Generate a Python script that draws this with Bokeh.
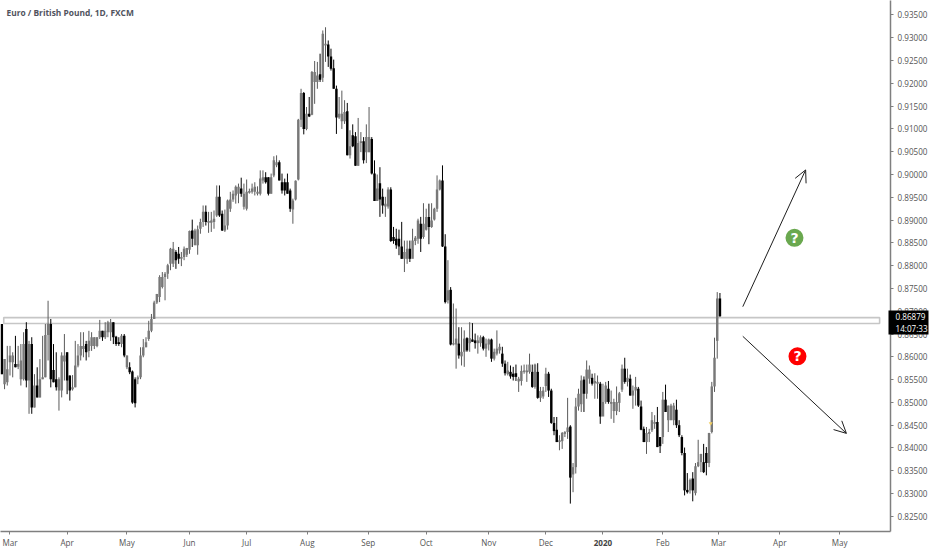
from bokeh.plotting import figure
from bokeh.models import (Range1d, FixedTicker, PrintfTickFormatter, Label, Arrow, OpenHead,
                          ColumnDataSource, LinearAxis)
from bokeh.core.properties import value
from bokeh.embed import file_html
from bokeh.resources import INLINE

# prices in 1/10000 units
highs = [
8672,8595,8624,8624,8610,8646,8624,8628,8654,8676,8635,8643,8562,8577,8595,8646,8672,8723,8683,8628,
8610,8555,8610,8650,8610,8559,8560,8635,8628,8654,8654,8635,8657,8654,8643,8643,8681,8657,8676,8679,
8683,8676,8646,8643,8650,8650,8603,8588,8570,8555,8559,8621,8639,8643,8679,8694,8723,8738,
8779,8786,8786,8804,8839,8852,8834,8841,8830,8842,8839,8877,8901,8881,8888,8903,8932,8932,8918,8918,
8921,8976,8976,8921,8923,8945,8962,8965,8976,8980,8993,8980,8989,8969,8980,8983,8974,9009,9009,9005,
8994,9002,9040,9042,9031,9002,8991,9002,8969,8947,8987,9122,
9188,9181,9148,9170,9227,9249,9247,9265,9316,9323,9294,9276,9252,9195,9170,9184,9163,9157,9097,9110,
9093,9124,9093,9082,9110,9148,9082,
9031,9000,9016,8969,8951,8972,8972,8885,8881,8879,8896,8855,8855,8855,8881,8865,8903,8907,8937,8925,
8936,8937,8927,8998,8989,9020,8869,8812,8753,8717,8706,8665,8665,8658,8643,8676,8674,8651,8647,8647,
8646,8640,8640,8640,8618,8658,8629,8622,8592,8589,8581,8578,
8583,8556,8581,8583,8583,8607,8583,8585,8586,8534,8534,8576,8567,8530,8468,8468,8428,8435,8437,8510,
8450,8367,8510,8530,8559,8557,8592,8581,8563,8564,8559,8545,8541,8545,8547,8526,8508,8535,8523,8583,
8598,8574,8561,8537,8556,8534,8504,8447,8446,8442,8479,8472,8490,8424,8523,8539,8493,8497,8499,8506,
8461,8428,8401,8345,8333,8347,8367,8418,8387,8409,8402,8433,8545,8642,8742,8740]
lows = [
8562,8529,8537,8559,8555,8577,8573,8537,8548,8533,8475,8475,8489,8511,8511,8551,8555,8592,8533,8544,
8526,8482,8511,8548,8518,8504,8526,8533,8577,8592,8599,8592,8599,8613,8617,8621,8639,8635,8639,8643,
8635,8628,8624,8624,8621,8599,8573,8562,8497,8489,8540,8551,8599,8621,8635,8654,8683,8716,
8720,8750,8724,8771,8790,8797,8793,8804,8799,8812,8819,8826,8841,8845,8824,8870,8885,8888,8872,8874,
8881,8907,8907,8876,8874,8879,8918,8940,8936,8937,8951,8923,8921,8958,8958,8954,8954,8954,8980,8980,
8954,8958,8994,9016,8987,8958,8954,8958,8918,8892,8943,8987,
9104,9088,9097,9126,9130,9155,9188,9203,9203,9247,9236,9228,9188,9089,9122,9100,9111,9042,9035,9060,
9019,9019,9049,9024,9025,9049,9000,
8942,8942,8907,8914,8907,8925,8852,8848,8837,8823,8815,8786,8804,8808,8819,8845,8848,8830,8859,8877,
8847,8883,8899,8918,8965,8841,8717,8717,8625,8625,8574,8596,8581,8578,8611,8611,8633,8618,8607,8622,
8614,8600,8614,8589,8592,8603,8607,8578,8559,8559,8552,8548,
8547,8523,8537,8563,8545,8563,8532,8530,8508,8501,8508,8523,8512,8453,8428,8413,8395,8398,8424,8420,
8278,8303,8344,8482,8479,8479,8508,8541,8537,8508,8508,8453,8472,8497,8497,8464,8455,8472,8479,8523,
8541,8535,8515,8486,8493,8490,8439,8413,8387,8413,8435,8442,8402,8389,8409,8479,8435,8461,8450,8444,
8424,8384,8296,8300,8300,8283,8296,8358,8347,8345,8340,8358,8432,8523,8596,8688]
opens = [
8672,8540,8544,8588,8588,8584,8578,8551,8551,8661,8548,8628,8489,8537,8511,8551,8555,8648,8672,8571,
8551,8526,8526,8590,8610,8559,8529,8533,8581,8603,8617,8628,8613,8624,8624,8624,8643,8657,8643,8654,
8654,8676,8644,8632,8628,8646,8577,8577,8568,8551,8551,8555,8603,8621,8639,8657,8683,8719,
8731,8753,8775,8782,8804,8804,8830,8826,8815,8819,8824,8835,8877,8845,8845,8881,8896,8918,8894,8894,
8896,8910,8951,8914,8877,8888,8925,8945,8954,8958,8969,8929,8925,8960,8962,8962,8958,8958,8987,8994,
8994,8958,8998,9020,9027,8983,8983,8983,8965,8923,8945,8989,
9120,9179,9100,9133,9131,9203,9203,9220,9212,9283,9285,9259,9233,9188,9125,9117,9117,9139,9042,9086,
9084,9019,9069,9073,9049,9049,9078,
9002,8942,8981,8951,8930,8930,8967,8863,8859,8859,8842,8815,8815,8837,8815,8854,8859,8892,8863,8879,
8907,8885,8901,8925,8967,8987,8842,8724,8747,8627,8627,8629,8601,8611,8641,8630,8638,8636,8630,8630,
8643,8618,8627,8638,8596,8607,8614,8607,8585,8562,8567,8563,
8564,8546,8547,8567,8566,8567,8567,8534,8567,8510,8513,8536,8563,8526,8455,8440,8413,8415,8431,8435,
8447,8342,8358,8491,8496,8550,8519,8552,8554,8542,8541,8541,8469,8501,8530,8497,8481,8481,8499,8528,
8574,8545,8552,8515,8526,8530,8491,8442,8413,8431,8439,8453,8457,8424,8424,8506,8461,8461,8461,8484,
8450,8424,8389,8308,8307,8333,8301,8360,8369,8369,8389,8367,8435,8535,8635,8728]
closes = [
8562,8595,8573,8603,8603,8577,8584,8592,8628,8548,8628,8489,8537,8511,8551,8555,8648,8672,8551,8544,
8533,8551,8603,8603,8548,8526,8533,8581,8603,8624,8624,8610,8635,8643,8643,8643,8657,8643,8657,8676,
8676,8643,8628,8628,8646,8603,8603,8566,8500,8498,8555,8603,8621,8632,8657,8683,8719,8738,
8775,8775,8782,8801,8837,8837,8812,8815,8819,8837,8839,8876,8859,8877,8880,8896,8918,8896,8898,8899,
8903,8951,8910,8877,8888,8943,8945,8958,8973,8973,8958,8958,8962,8964,8969,8973,8962,8991,8994,8983,
8958,8994,9031,9027,8987,8965,8965,8958,8925,8943,8986,9120,
9179,9100,9133,9127,9225,9225,9217,9208,9309,9287,9259,9232,9188,9125,9133,9133,9137,9042,9062,9062,
9019,9069,9073,9031,9082,9082,9002,
8942,8969,8945,8932,8936,8967,8854,8854,8845,8842,8815,8830,8837,8815,8855,8861,8899,8859,8892,8907,
8885,8899,8925,8967,8987,8842,8720,8746,8627,8630,8640,8603,8611,8640,8614,8641,8633,8630,8636,8643,
8618,8629,8638,8596,8611,8618,8622,8585,8564,8570,8557,8556,
8556,8552,8569,8570,8570,8583,8534,8583,8510,8525,8526,8563,8526,8455,8437,8413,8417,8433,8435,8445,
8335,8358,8491,8519,8548,8519,8572,8572,8541,8547,8545,8469,8501,8537,8501,8501,8501,8501,8520,8574,
8545,8554,8515,8526,8534,8493,8440,8413,8433,8435,8461,8457,8402,8404,8506,8479,8493,8493,8493,8450,
8428,8389,8307,8303,8330,8307,8360,8369,8387,8347,8367,8433,8535,8598,8728,8689]
assert len(highs) == len(lows) == len(opens) == len(closes)

month_ticks = [0, 21, 43, 66, 87, 109.3, 131.7, 153, 176, 197, 218, 240, 260.5, 283, 305]
month_labels = ["Mar", "Apr", "May", "Jun", "Jul", "Aug", "Sep", "Oct", "Nov", "Dec", "", "Feb", "Mar", "Apr", "May"]
year_tick, year_label = 218, "2020"
price_ticks = [0.825, 0.83, 0.835, 0.84, 0.845, 0.85, 0.855, 0.86, 0.865, 0.87, 0.875, 0.88, 0.885, 0.89,
               0.895, 0.90, 0.905, 0.91, 0.915, 0.92, 0.925, 0.93, 0.935]
zone_bottom, zone_top = 0.8673, 0.8686
zone_left, zone_right = -2.3, 319.7
last_price, countdown_level, countdown = 0.86879, 0.86615, "14:07:33"
title_text = "Euro / British Pound, 1D, FXCM"

UP, DOWN = "#787878", "#000000"
FONT = "Open Sans"

p = figure(frame_width=890, frame_height=531, width=932, height=550, output_backend="svg",
           toolbar_location=None, x_range=Range1d(-3.49, 323.7), y_range=Range1d(0.82168, 0.93817),
           x_axis_location=None, y_axis_location=None, min_border=0, min_border_right=42,
           min_border_bottom=19, min_border_top=0, min_border_left=0,
           background_fill_color="white", outline_line_color=None)
p.grid.visible = False

p.quad(left=[zone_left], right=[zone_right], top=[zone_top], bottom=[zone_bottom],
       fill_color="white", line_color="#c6c6c6", line_width=1.6)

n = len(highs)
xs = [i - 3 for i in range(n)]
src = ColumnDataSource(dict(
    x=xs,
    h=[v / 10000 for v in highs], l=[v / 10000 for v in lows],
    o=[v / 10000 for v in opens], c=[v / 10000 for v in closes],
    col=[UP if c >= o else DOWN for o, c in zip(opens, closes)],
    wick=["#5a5a5a" if c >= o else DOWN for o, c in zip(opens, closes)],
))
p.segment("x", "h", "x", "l", source=src, line_color="wick", line_width=1)
p.vbar(x="x", top="o", bottom="c", width=0.9, source=src, fill_color="col", line_color=None)

# yellow marker
p.scatter([257.6], [0.8454], marker="inverted_triangle", size=4, fill_color="#f2cf63", line_color=None)

# arrows
for xa, ya, xb, yb in [(269.4, 0.8710, 292.5, 0.9010), (269.4, 0.8645, 307.5, 0.8432)]:
    p.add_layout(Arrow(end=OpenHead(size=12, line_width=1, line_color="#1e1e1e"),
                       x_start=xa, y_start=ya, x_end=xb, y_end=yb,
                       line_width=1, line_color="#1e1e1e"))

# question badges
p.scatter([288.4], [0.8861], size=18, fill_color="#6aa84f", line_color=None)
p.scatter([289.5], [0.8601], size=18, fill_color="#ff0000", line_color=None)
p.text([288.4, 289.5], [0.8861, 0.8601], text=["?", "?"], text_color="white", text_align="center",
       text_baseline="middle", text_font=value("DejaVu Sans"), text_font_style="bold", text_font_size="14px")

# axes
ya = LinearAxis(ticker=FixedTicker(ticks=price_ticks), formatter=PrintfTickFormatter(format="%.5f"),
                axis_line_color="#7f7f7f", axis_line_width=1.5, major_tick_line_color="#7f7f7f",
                major_tick_in=0, major_tick_out=3, minor_tick_line_color=None,
                major_label_text_font=FONT, major_label_text_font_size="8.1px",
                major_label_text_color="#555555", major_label_standoff=4)
p.add_layout(ya, "right")

# last-price and countdown tags: a second price axis whose thick ticks are the black boxes
tags = LinearAxis(ticker=FixedTicker(ticks=[last_price, countdown_level]),
                  major_label_overrides={last_price: f"{last_price:.5f}", countdown_level: countdown},
                  axis_line_color=None, major_tick_line_color="black", major_tick_line_width=12,
                  major_tick_in=42, major_tick_out=-2, minor_tick_line_color=None,
                  major_label_text_font=FONT, major_label_text_font_size="8.1px",
                  major_label_text_color="white", major_label_standoff=-35)
p.add_layout(tags, "right")

xa = LinearAxis(ticker=FixedTicker(ticks=month_ticks),
                major_label_overrides={t: s for t, s in zip(month_ticks, month_labels)},
                axis_line_color="#7f7f7f", axis_line_width=1.5, major_tick_line_color="#7f7f7f",
                major_tick_in=0, major_tick_out=3, minor_tick_line_color=None,
                major_label_text_font=FONT, major_label_text_font_size="8.1px",
                major_label_text_color="#555555", major_label_standoff=2)
p.add_layout(xa, "below")

# bold year label: second time axis lying over the first
yr = LinearAxis(ticker=FixedTicker(ticks=[year_tick]), major_label_overrides={year_tick: year_label},
                axis_line_color=None, major_tick_line_color=None, minor_tick_line_color=None,
                major_tick_in=0, major_tick_out=0,
                major_label_text_font=FONT, major_label_text_font_size="8.1px",
                major_label_text_font_style="bold", major_label_text_color="#444444",
                major_label_standoff=-11)
p.add_layout(yr, "below")

p.add_layout(Label(x=6, y=11.5, x_units="canvas", y_units="canvas", text=title_text, text_font=FONT, text_font_size="8.4px",
                   text_font_style="bold", text_color="#50535e", text_align="left",
                   text_baseline="middle", level="overlay"))

open("out.html", "w").write(file_html(p, INLINE))
